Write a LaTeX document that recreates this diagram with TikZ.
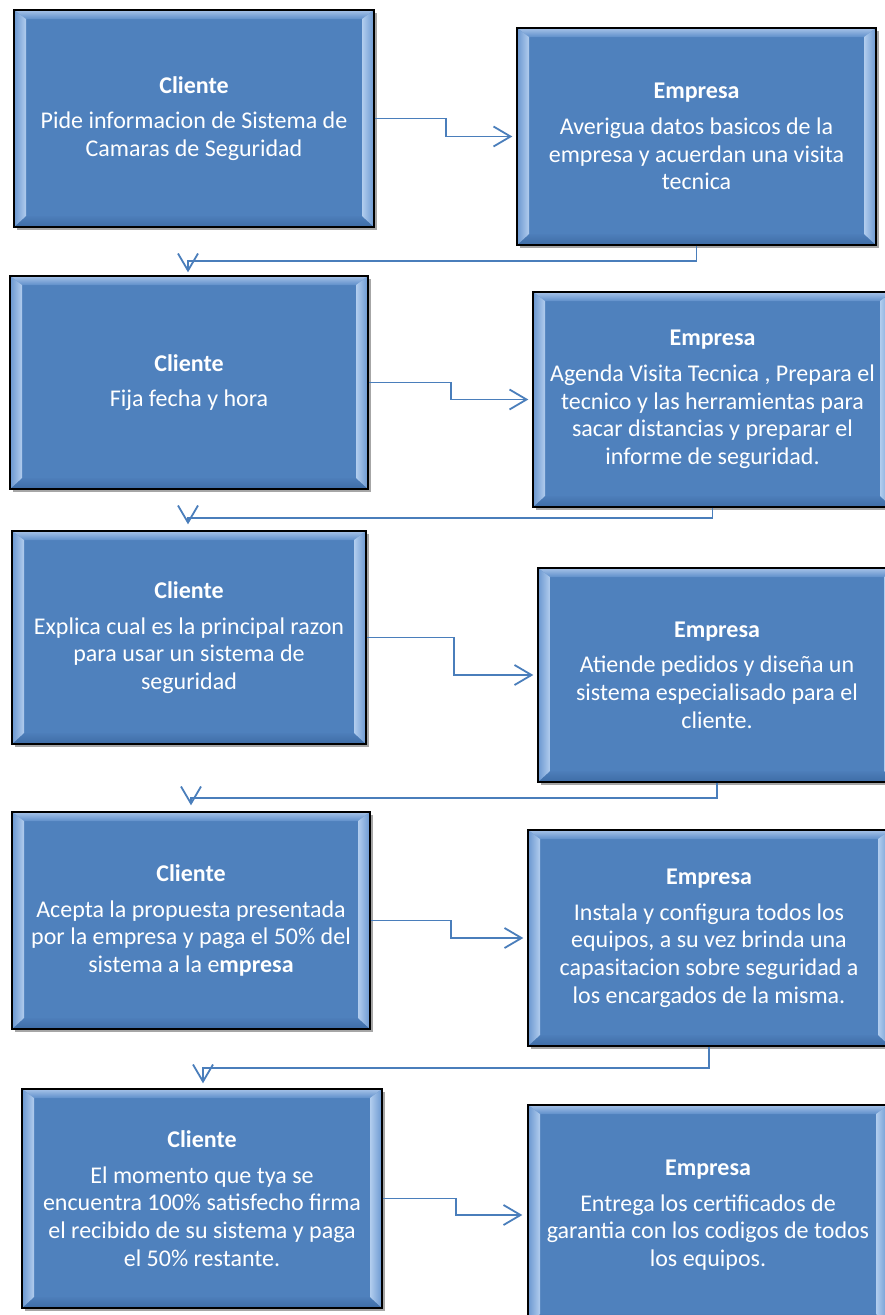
\documentclass[tikz,border=0pt]{standalone}
\usepackage{fontspec}
\setmainfont{Carlito}
\usetikzlibrary{arrows.meta,shadows,calc}
\definecolor{boxblue}{HTML}{4F81BD}
\definecolor{lineblue}{HTML}{4A7EBB}
\definecolor{bvTopA}{HTML}{A7C3E8}
\definecolor{bvTopB}{HTML}{5F8FCB}
\definecolor{bvBotA}{HTML}{4D7EBA}
\definecolor{bvBotB}{HTML}{3E6CA5}
\definecolor{bvOut}{HTML}{6A97D0}
\definecolor{bvHi}{HTML}{F2F8FE}
\definecolor{bvIn}{HTML}{B2CDEE}
\tikzset{
  bevel/.style={path picture={
    \path (path picture bounding box.north west) coordinate (pNW)
          (path picture bounding box.north east) coordinate (pNE)
          (path picture bounding box.south west) coordinate (pSW)
          (path picture bounding box.south east) coordinate (pSE);
    \shade[top color=bvTopA, bottom color=bvTopB]
      (pNW) -- (pNE) -- ($(pNE)+(-12pt,-9pt)$) -- ($(pNW)+(12pt,-9pt)$) -- cycle;
    \shade[top color=bvBotA, bottom color=bvBotB]
      (pSW) -- (pSE) -- ($(pSE)+(-12pt,11pt)$) -- ($(pSW)+(12pt,11pt)$) -- cycle;
    \shade[left color=bvOut, middle color=bvHi, right color=bvIn]
      (pNW) -- ($(pNW)+(12pt,-9pt)$) -- ($(pSW)+(12pt,11pt)$) -- (pSW) -- cycle;
    \shade[left color=bvIn, middle color=bvHi, right color=bvOut]
      (pNE) -- ($(pNE)+(-12pt,-9pt)$) -- ($(pSE)+(-12pt,11pt)$) -- (pSE) -- cycle;
  }},
  bx/.style={rectangle, draw=black, line width=1.4pt, fill=boxblue, text=white,
    align=center, inner sep=0pt, font=\fontsize{24}{27.7}\selectfont,
    drop shadow={shadow xshift=3pt, shadow yshift=-3pt, opacity=0.35, fill=black},
    bevel},
  conn/.style={draw=lineblue, line width=1.8pt, -{Straight Barb[length=17pt,width=20pt]}},
}
\begin{document}
\begin{tikzpicture}[x=1pt,y=-1pt]
\useasboundingbox[fill=white] (0,0) rectangle (884,1315);

% Row 1
\node[bx, minimum width=360pt, minimum height=217pt] (c1) at (194,118.5)
  {\textbf{Cliente}\\[8pt]Pide informacion de Sistema de\\Camaras de Seguridad};
\node[bx, minimum width=359pt, minimum height=217pt] (e1) at (696.5,136.5)
  {\textbf{Empresa}\\[8pt]Averigua datos basicos de la\\empresa y acuerdan una visita\\tecnica};
% Row 2
\node[bx, minimum width=358pt, minimum height=213pt] (c2) at (189,382.5)
  {\textbf{Cliente}\\[8pt]Fija fecha y hora};
\node[bx, minimum width=359pt, minimum height=215pt] (e2) at (712.5,399.5)
  {\textbf{Empresa}\\[8pt]Agenda Visita Tecnica , Prepara el\\tecnico y las herramientas para\\sacar distancias y preparar el\\informe de seguridad.};
% Row 3
\node[bx, minimum width=354pt, minimum height=213pt] (c3) at (189,637.5)
  {\textbf{Cliente}\\[8pt]Explica cual es la principal razon\\para usar un sistema de\\seguridad};
\node[bx, minimum width=358pt, minimum height=214pt] (e3) at (717,675)
  {\textbf{Empresa}\\[8pt]Atiende pedidos y diseña un\\sistema especialisado para el\\cliente.};
% Row 4
\node[bx, minimum width=358pt, minimum height=217pt] (c4) at (191,920.5)
  {\textbf{Cliente}\\[8pt]Acepta la propuesta presentada\\por la empresa y paga el 50\% del\\sistema a la e\textbf{mpresa}};
\node[bx, minimum width=362pt, minimum height=216pt] (e4) at (709,938)
  {\textbf{Empresa}\\[8pt]Instala y configura todos los\\equipos, a su vez brinda una\\capasitacion sobre seguridad a\\los encargados de la misma.};
% Row 5
\node[bx, minimum width=360pt, minimum height=219pt] (c5) at (202,1198.5)
  {\textbf{Cliente}\\[8pt]El momento que tya se\\encuentra 100\% satisfecho firma\\el recibido de su sistema y paga\\el 50\% restante.};
\node[bx, minimum width=360pt, minimum height=220pt] (e5) at (708,1215)
  {\textbf{Empresa}\\[8pt]Entrega los certificados de\\garantia con los codigos de todos\\los equipos.};

% Horizontal elbow connectors
\draw[conn, shorten >=4pt] (c1.east) -- ++(71pt,0) |- (e1.west);
\draw[conn, shorten >=4pt] (c2.east) -- ++(82pt,0) |- (e2.west);
\draw[conn, shorten >=4pt] (c3.east) -- ++(87pt,0) |- (e3.west);
\draw[conn, shorten >=4pt] (c4.east) -- ++(80pt,0) |- (e4.west);
\draw[conn, shorten >=5pt] (c5.east) -- ++(73pt,0) |- (e5.west);

% Return connectors
\draw[conn, shorten >=3pt] (e1.south) |- ($(c2.north)+(-1pt,14pt)$) -- ($(c2.north)+(-1pt,0)$);
\draw[conn, shorten >=6pt] (e2.south) |- ($(c3.north)+(-1pt,12pt)$) -- ($(c3.north)+(-1pt,0)$);
\draw[conn, shorten >=6pt] (e3.south) |- ($(c4.north)+(0pt,13pt)$) -- (c4.north);
\draw[conn, shorten >=5pt] (e4.south) |- ($(c5.north)+(1pt,20pt)$) -- ($(c5.north)+(1pt,0)$);
\end{tikzpicture}
\end{document}
